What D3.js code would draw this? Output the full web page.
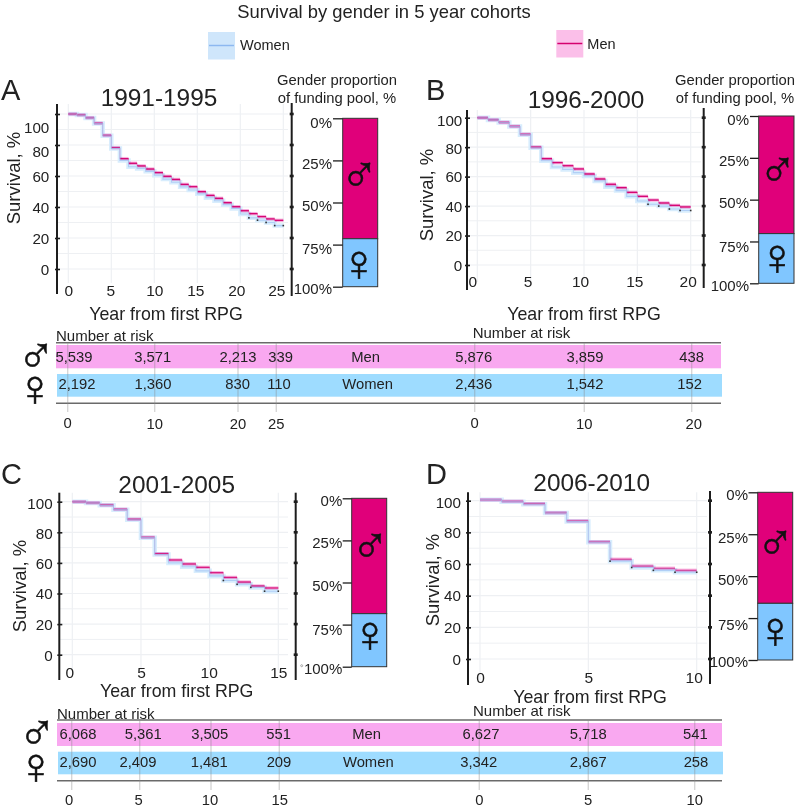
<!DOCTYPE html>
<html><head><meta charset="utf-8">
<script src="https://cdn.jsdelivr.net/npm/d3@7"></script>
<style>html,body{margin:0;padding:0;background:#fff}svg{display:block}text{font-family:"Liberation Sans",Arial,sans-serif;fill:#222}</style>
</head><body><div id="c"></div>
<script>
// ---------- data ----------
const overallTitle="Survival by gender in 5 year cohorts";
const legendLabels=["Women","Men"];
const yTicks=[100,80,60,40,20,0];
const gridY=[0,10,20,30,40,50,60,70,80,90,100];
const barTicks=[0,25,50,75,100];
const cohorts=["1991-1995","1996-2000","2001-2005","2006-2010"];
const letters=["A","B","C","D"];
const aMen=[100,99.4,97.6,94,86.2,78.3,71.2,68.2,66.5,64.5,62.2,59.8,57.8,54.6,53.1,49.9,47.5,45.6,42.8,40.2,37.6,35.7,33.8,32.3,31.4];
const aWomen=[100,99.3,97.5,93.8,86,77.8,70,66,64.8,63,60.5,58,56,53,51,48.5,46,44,41.5,39,35.5,33,31.5,30,28];
const bMen=[100,98.6,96.8,94.1,88.7,80,72.2,69.5,67.4,65.2,61.8,58.4,54.8,52.5,49.3,46.6,44.1,42.1,40.5,39.4];
const bWomen=[100,98.5,96.7,94,88.5,79.6,70.8,66.5,64.9,62.7,60.4,57,53.2,50.5,46.6,43.5,41.2,40,38,37];
const cMen=[100,99.3,97.8,95,88.5,76.7,66,61.9,59.3,57.1,53.6,50.5,47.5,44.9,43.6];
const cWomen=[100,99.2,97.6,94.8,88.2,76.5,65.5,60,57.5,54.8,51.5,48.5,46,44,41.5];
const dMen=[100.6,99.6,98.1,92.4,87.2,74,63,58.7,57.3,56];
const dWomen=[100.6,99.3,97.8,92.2,86.8,73.8,61.8,57.8,56,54.8];
const aCensor=[21,22,23,24,25];
const bCensor=[16,17,18,19,20];
const cCensor=[11,12,13,14,15];
const dCensor=[6,7,8,9,10];
const menShare=[71.5,70.3,68.5,66.2];
const womenShare=[28.5,29.7,31.5,33.8];
const riskYearsA=[0,10,20,25], riskMenA=["5,539","3,571","2,213","339"], riskWomenA=["2,192","1,360","830","110"];
const riskYearsB=[0,10,20],    riskMenB=["5,876","3,859","438"],         riskWomenB=["2,436","1,542","152"];
const riskYearsC=[0,5,10,15],  riskMenC=["6,068","5,361","3,505","551"], riskWomenC=["2,690","2,409","1,481","209"];
const riskYearsD=[0,5,10],     riskMenD=["6,627","5,718","541"],         riskWomenD=["3,342","2,867","258"];

// ---------- layout ----------
const panels=[
 {men:aMen,women:aWomen,censor:aCensor,menOp:.95,years:25,step:5,x0:68.3,x1:283.3,y100:114,y0:269,lx:57,ly:[104,294],rx:291.7,ry:[103,296],gridR:288,gridB:283,
  yLab:49.3,yLabDy:[13,6,0,0,0,0],xLabY:295.7,xLabX:[0,-1,0,-2,-4,-7],title:[159,106],letter:[1,100],survival:[20,178],yr:[166,320],
  bar:[342.7,377.7,118.3,286.7],barTick:333,barLab:332,barDy:[4,3,3,4,2],head:337,mS:[359.3,173.7],fS:[359,262.7]},
 {men:bMen,women:bWomen,censor:bCensor,menOp:.95,years:20,step:5,x0:477.3,x1:690.7,y100:117.7,y0:265,lx:467,ly:[110,290],rx:703.7,ry:[108,288],gridR:701,gridB:282,
  yLab:462.3,yLabDy:[2,1,0,0,0,0],xLabY:286.7,xLabX:[-5,-3,-4,-3,-3],title:[586,107.7],letter:[426,100],survival:[433,195],yr:[584,320],
  bar:[758.7,794,116,283.3],barTick:750,barLab:749,barDy:[3,3,3,5,2],head:735,mS:[777.5,168.7],fS:[777.2,257]},
 {men:cMen,women:cWomen,censor:cCensor,menOp:.8,years:15,step:5,x0:72.3,x1:278.3,y100:501.7,y0:654.7,lx:59.3,ly:[492.7,680],rx:295.7,ry:[492.7,680],gridR:288,gridB:670,
  yLab:52.7,yLabDy:[1,1,0,0,0,0],xLabY:678,xLabX:[-3,0,-1,0],title:[176.7,492.7],letter:[1,484],survival:[26,586],yr:[176.7,697.3],
  bar:[351.7,386.7,498.3,666.7],barTick:342.7,barLab:342.3,barDy:[2,2,3,5,2],head:null,mS:[370,545.3],fS:[370,634]},
 {men:dMen,women:dWomen,censor:dCensor,menOp:.45,years:10,step:5,x0:480,x1:696.7,y100:500.7,y0:659,lx:468,ly:[492.3,685],rx:710,ry:[491,684],gridR:707,gridB:680,
  yLab:461,yLabDy:[1,0,0,0,0,0],xLabY:683,xLabX:[0,0,-3],title:[591.7,490.7],letter:[426,484],survival:[439,580],yr:[590,703],
  bar:[757.7,792.7,492.3,660],barTick:748.5,barLab:748,barDy:[2,3,3,6,1],head:null,mS:[775.3,541.7],fS:[775.3,630.3]}
];
const risks=[
 {yrs:riskYearsA,m:riskMenA,w:riskWomenA,lines:[67.7,154.7,238,276.3],mx:[74,152.7,238,280.7],wx:[77,153,237.7,279],labX:[67.7,154.7,238,276.3],labY:[422.7,424,424,424],na:[56,341]},
 {yrs:riskYearsB,m:riskMenB,w:riskWomenB,lines:[474.7,584.3,691.7],mx:[473.7,585,691.7],wx:[473.7,585,689.7],labX:[474.7,584.3,693.7],labY:[422.7,424,424],na:[472.7,338]},
 {yrs:riskYearsC,m:riskMenC,w:riskWomenC,lines:[71.7,139.7,211,279.3],mx:[78,143.3,209.7,278.7],wx:[78,138,209.3,279],labX:[69,138.7,210,279.7],labY:[800,800,800,800],na:[57,718.7]},
 {yrs:riskYearsD,m:riskMenD,w:riskWomenD,lines:[479.3,588.3,694.7],mx:[481,588.3,695.3],wx:[478.7,588.3,696],labX:[479.3,588,694.7],labY:[800,800,800],na:[473,716]}
];
const rows=[
 {top:342.7,p:[345,368.3],b:[374,396.7],bot:403.3,my:356.7,wy:384,lineEnd:412,left:56,right:721,mS:[36,355],fS:[35,388]},
 {top:720,p:[723,746],b:[751.7,774.3],bot:780.7,my:734.3,wy:762.3,lineEnd:790,left:57,right:722,mS:[37,732],fS:[36,766]}
];
const C={men:"#d5006f",menBand:"#f6a9dc",women:"#a3c4f3",womenBand:"#d8edfd",barM:"#e0007a",barF:"#80c6ff",rowM:"#f9a8f0",rowF:"#9edcff",grid:"#eef0f3",ink:"#1d1d1d"};
const symSize=52;

const svg=d3.select("#c").append("svg").attr("width",800).attr("height",810);
const T=(x,y,s,fs,anchor)=>svg.append("text").attr("x",x).attr("y",y).attr("font-size",fs).attr("text-anchor",anchor||"start").text(s);
const sym=(g,pos,fs,ch)=>g.append("text").attr("x",pos[0]).attr("y",pos[1]).attr("font-size",fs).attr("text-anchor","middle").attr("dominant-baseline","central").style("font-family","'Liberation Sans'").style("fill","#111").style("stroke","#111").style("stroke-width",.5).text(ch);

// header + legend
T(384,18,overallTitle,18.4,"middle");
const legend=[[208,32,240,50,"#cfe6fb","#8db8f0",legendLabels[0]],[556.3,30,587.3,49,"#fbbfe9",C.men,legendLabels[1]]];
legend.forEach(l=>{
 svg.append("rect").attr("x",l[0]).attr("y",l[1]).attr("width",27).attr("height",27.5).attr("fill",l[4]);
 svg.append("line").attr("x1",l[0]+1).attr("x2",l[0]+26).attr("y1",l[1]+13.5).attr("y2",l[1]+13.5).attr("stroke",l[5]).attr("stroke-width",1.5);
 T(l[2],l[3],l[6],14.5);
});

panels.forEach((p,i)=>{
 const x=d3.scaleLinear().domain([0,p.years]).range([p.x0,p.x1]);
 const y=d3.scaleLinear().domain([0,100]).range([p.y0,p.y100]);
 const g=svg.append("g");
 // grid
 g.selectAll(".gh").data(gridY).join("line").attr("x1",p.lx).attr("x2",p.gridR).attr("y1",d=>y(d)).attr("y2",d=>y(d)).attr("stroke",C.grid).attr("stroke-width",d=>d%20==0?1.2:1);
 g.selectAll(".gv").data(d3.range(0,p.years+1,p.step)).join("line").attr("x1",d=>x(d)).attr("x2",d=>x(d)).attr("y1",p.ly[0]).attr("y2",p.gridB).attr("stroke",C.grid).attr("stroke-width",1.2);
 // curves: stairs for verticals, segments for the horizontal treads
 const pts=a=>a.map((v,k)=>[k,v]).concat([[a.length,a[a.length-1]]]);
 const line=d3.line().x(d=>x(d[0])).y(d=>y(d[1])).curve(d3.curveStepAfter);
 const L=(a,col,w,op)=>g.append("path").attr("d",line(pts(a))).attr("fill","none").attr("stroke",col).attr("stroke-width",w).attr("opacity",op);
 const H=(a,col,w,op)=>g.selectAll(null).data(a).join("line").attr("x1",(d,k)=>x(k)).attr("x2",(d,k)=>x(k+1)).attr("y1",d=>y(d)).attr("y2",d=>y(d)).attr("stroke",col).attr("stroke-width",w).attr("opacity",op);
 L(p.women,C.womenBand,4.5,1);
 H(p.men,C.menBand,3.4,.9).style("mix-blend-mode","multiply");
 L(p.men,C.men,1,.3*p.menOp);
 H(p.men,C.men,1.3,p.menOp);
 L(p.women,C.women,1.1,.75);
 g.selectAll(".cn").data(p.censor).join("rect").attr("x",d=>x(d)-.8).attr("y",d=>y(p.women[Math.min(d,p.women.length-1)])-.8).attr("width",1.6).attr("height",1.6).attr("fill","#333");
 // axes
 const la=d3.axisLeft(y).tickValues(yTicks).tickSize(4).tickFormat(d=>d);
 const lg=svg.append("g").attr("transform",`translate(${p.lx},0)`).call(la);
 lg.select(".domain").remove();
 lg.selectAll(".tick line").attr("x2",3).attr("x1",-2).attr("stroke",C.ink).attr("stroke-width",1.6);
 lg.selectAll(".tick text").attr("x",p.yLab-p.lx).attr("dy",(d,k)=>(p.yLabDy[k]+5.3)+"px").attr("font-size",15.2).style("font-family",'"Liberation Sans"');
 g.append("line").attr("x1",p.lx).attr("x2",p.lx).attr("y1",p.ly[0]).attr("y2",p.ly[1]).attr("stroke",C.ink).attr("stroke-width",2);
 g.append("line").attr("x1",p.rx).attr("x2",p.rx).attr("y1",p.ry[0]).attr("y2",p.ry[1]).attr("stroke",C.ink).attr("stroke-width",2);
 g.selectAll(".rt").data(yTicks).join("rect").attr("x",p.rx-2).attr("y",d=>y(d)-1.3).attr("width",4).attr("height",2.6).attr("fill",C.ink);
 const xa=d3.axisBottom(x).tickValues(d3.range(0,p.years+1,p.step)).tickSize(0).tickFormat(d=>d);
 const xg=svg.append("g").attr("transform",`translate(0,${p.xLabY})`).call(xa);
 xg.select(".domain").remove();
 xg.selectAll(".tick text").attr("y",0).attr("dy",0).attr("dx",(d,k)=>p.xLabX[k]).attr("font-size",15.5).style("font-family",'"Liberation Sans"');
 // labels
 T(p.title[0],p.title[1],cohorts[i],24.4,"middle");
 T(p.letter[0],p.letter[1],letters[i],29);
 T(p.yr[0],p.yr[1],"Year from first RPG",17.8,"middle");
 svg.append("text").attr("transform",`translate(${p.survival[0]},${p.survival[1]}) rotate(-90)`).attr("text-anchor","middle").attr("font-size",18.5).text("Survival, %");
 if(p.head){T(p.head,85,"Gender proportion",14.8,"middle");T(p.head,103,"of funding pool, %",14.8,"middle");}
 // proportion bar
 const by=d3.scaleLinear().domain([0,100]).range([p.bar[2],p.bar[3]]);
 const bars=[[0,menShare[i],C.barM],[menShare[i],menShare[i]+womenShare[i],C.barF]];
 svg.selectAll(null).data(bars).join("rect").attr("x",p.bar[0]).attr("width",p.bar[1]-p.bar[0]).attr("y",d=>by(d[0])).attr("height",d=>by(d[1])-by(d[0])).attr("fill",d=>d[2]).attr("stroke","#333").attr("stroke-width",1);
 const ba=d3.axisLeft(by).tickValues(barTicks).tickSize(p.bar[0]-p.barTick).tickFormat(d=>d+"%");
 const bg=svg.append("g").attr("transform",`translate(${p.bar[0]},0)`).call(ba);
 bg.select(".domain").remove();
 bg.selectAll(".tick line").attr("stroke",C.ink).attr("stroke-width",1.3);
 bg.selectAll(".tick text").attr("x",p.barLab-p.bar[0]).attr("dy",(d,k)=>(p.barDy[k]+5)+"px").attr("font-size",15).style("font-family",'"Liberation Sans"');
 sym(svg,p.mS,symSize,"♂"); sym(svg,p.fS,symSize,"♀");
});
svg.append("circle").attr("cx",301.7).attr("cy",665.7).attr("r",1).attr("fill","none").attr("stroke","#777").attr("stroke-width",.6);

// number at risk
rows.forEach((r,ri)=>{
 svg.append("rect").attr("x",r.left).attr("width",r.right-r.left).attr("y",r.p[0]).attr("height",r.p[1]-r.p[0]).attr("fill",C.rowM);
 svg.append("rect").attr("x",r.left+1).attr("width",r.right-r.left).attr("y",r.b[0]).attr("height",r.b[1]-r.b[0]).attr("fill",C.rowF);
 [r.top,r.bot].forEach(v=>svg.append("line").attr("x1",r.left).attr("x2",r.right).attr("y1",v).attr("y2",v).attr("stroke","#6a6a6a").attr("stroke-width",1.4));
 const L=risks[ri*2],R=risks[ri*2+1];
 [L,R].forEach(t=>{
  const rx=d3.scaleLinear().domain(t.yrs).range(t.lines);
  svg.selectAll(null).data(t.yrs).join("line").attr("x1",d=>rx(d)).attr("x2",d=>rx(d)).attr("y1",r.top).attr("y2",r.lineEnd).attr("stroke","#8a8a8a").attr("stroke-opacity",.35).attr("stroke-width",1.4);
  t.m.forEach((s,k)=>T(t.mx[k],r.my+5,s,14.8,"middle"));
  t.w.forEach((s,k)=>T(t.wx[k],r.wy+5,s,14.8,"middle"));
  t.yrs.forEach((v,k)=>T(t.labX[k],t.labY[k]+5,v,14.8,"middle"));
  T(t.na[0],t.na[1],"Number at risk",15);
 });
 T(ri?366.7:365.7,r.my+5,"Men",14.8,"middle");
 T(ri?368.3:367.7,r.wy+5,"Women",14.8,"middle");
 sym(svg,r.mS,symSize,"♂"); sym(svg,r.fS,symSize,"♀");
});
</script></body></html>
